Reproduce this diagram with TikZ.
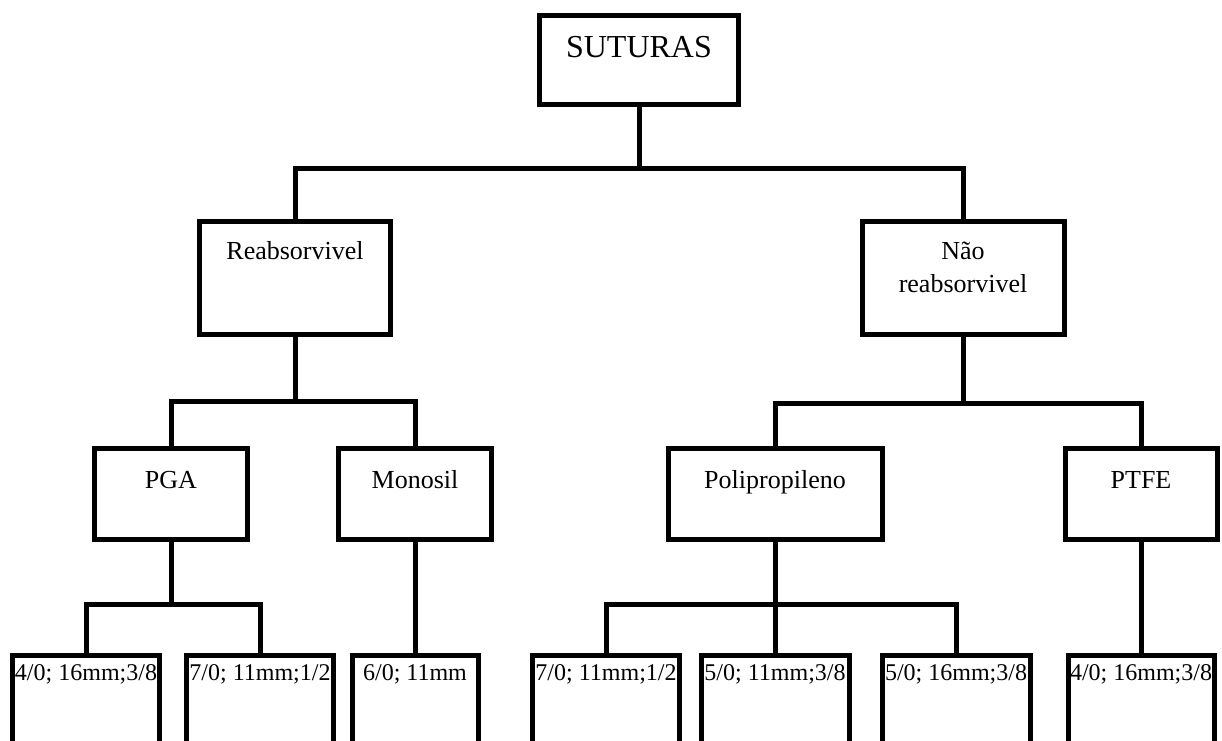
\documentclass[tikz,border=0pt]{standalone}
\usepackage{fontspec}
\setmainfont{Liberation Serif}
\begin{document}
\begin{tikzpicture}[x=1pt,y=-1pt,
  box/.style={draw=black,line width=5pt,inner sep=0pt,outer sep=0pt,fill=white},
  conn/.style={draw=black,line width=5pt,line join=miter},
  toptxt/.style={font=\fontsize{32}{38}\selectfont,inner sep=0pt,anchor=base},
  midtxt/.style={font=\fontsize{26}{31}\selectfont,inner sep=0pt,anchor=base},
  leaftxt/.style={font=\fontsize{24}{29}\selectfont,inner sep=0pt,anchor=base}]
\useasboundingbox (0,0) rectangle (1222,740);
\fill[white] (0,0) rectangle (1222,740);
\clip (0,0) rectangle (1222,740);

% level 0
\node[box,minimum width=199pt,minimum height=89pt] (sut) at (639,60) {};
% level 1
\node[box,minimum width=191pt,minimum height=113pt] (reab) at (295,278) {};
\node[box,minimum width=202pt,minimum height=113pt] (non) at (963,278) {};
% level 2
\node[box,minimum width=153pt,minimum height=91pt] (pga) at (171,494) {};
\node[box,minimum width=153pt,minimum height=91pt] (mono) at (415,494) {};
\node[box,minimum width=214pt,minimum height=91pt] (poli) at (775,494) {};
\node[box,minimum width=152pt,minimum height=91pt] (ptfe) at (1141,494) {};
% leaves
\node[box,minimum width=147pt,minimum height=145pt] (l1) at (86,728) {};
\node[box,minimum width=147pt,minimum height=145pt] (l2) at (260,728) {};
\node[box,minimum width=126pt,minimum height=145pt] (l3) at (415,728) {};
\node[box,minimum width=147pt,minimum height=145pt] (l4) at (606,728) {};
\node[box,minimum width=148pt,minimum height=145pt] (l5) at (775,728) {};
\node[box,minimum width=148pt,minimum height=145pt] (l6) at (956,728) {};
\node[box,minimum width=146pt,minimum height=145pt] (l7) at (1141,728) {};

% texts
\node[toptxt] (tsut) at ([yshift=-41.5pt]sut.north) {SUTURAS};
\node[midtxt] (treab) at ([yshift=-38pt]reab.north) {Reabsorvivel};
\node[midtxt] (tnon1) at ([yshift=-37.5pt]non.north) {Não};
\node[midtxt] (tnon2) at ([yshift=-70.5pt]non.north) {reabsorvivel};
\node[midtxt] (tpga) at ([yshift=-40pt]pga.north) {PGA};
\node[midtxt] (tmono) at ([yshift=-40pt]mono.north) {Monosil};
\node[midtxt] (tpoli) at ([yshift=-40pt]poli.north) {Polipropileno};
\node[midtxt] (tptfe) at ([yshift=-40pt]ptfe.north) {PTFE};
\node[leaftxt] (t1) at ([yshift=-24.5pt]l1.north) {4/0; 16mm;3/8};
\node[leaftxt] (t2) at ([yshift=-24.5pt]l2.north) {7/0; 11mm;1/2};
\node[leaftxt] (t3) at ([yshift=-24.5pt]l3.north) {6/0; 11mm};
\node[leaftxt] (t4) at ([yshift=-24.5pt]l4.north) {7/0; 11mm;1/2};
\node[leaftxt] (t5) at ([yshift=-24.5pt]l5.north) {5/0; 11mm;3/8};
\node[leaftxt] (t6) at ([yshift=-24.5pt]l6.north) {5/0; 16mm;3/8};
\node[leaftxt] (t7) at ([yshift=-24.5pt]l7.north) {4/0; 16mm;3/8};

% junctions
\coordinate (j1) at (639,168);
\coordinate (j2) at (295,401);
\coordinate (j3) at (963,403);
\coordinate (j4) at (171,604);
\coordinate (j5) at (775,604);

% connectors
\draw[conn] (sut.south) -- (j1);
\draw[conn] (reab.north) |- (j1) -| (non.north);
\draw[conn] (reab.south) -- (j2);
\draw[conn] (pga.north) |- (j2) -| (mono.north);
\draw[conn] (non.south) -- (j3);
\draw[conn] (poli.north) |- (j3) -| (ptfe.north);
\draw[conn] (pga.south) -- (j4);
\draw[conn] (l1.north) |- (j4) -| (l2.north);
\draw[conn] (mono.south) -- (l3.north);
\draw[conn] (poli.south) -- (j5);
\draw[conn] (l4.north) |- (j5) -| (l6.north);
\draw[conn] (j5) -- (l5.north);
\draw[conn] (ptfe.south) -- (l7.north);
\end{tikzpicture}
\end{document}
